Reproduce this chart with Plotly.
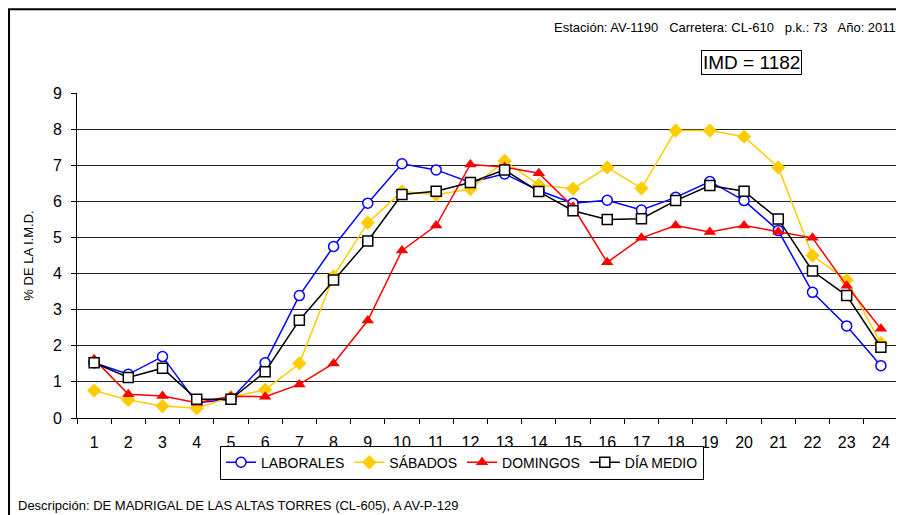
import plotly.graph_objects as go

horas = list(range(1, 25))

laborales = [1.53, 1.21, 1.70, 0.42, 0.52, 1.53, 3.39, 4.75, 5.95, 7.04, 6.87, 6.52,
             6.76, 6.30, 5.95, 6.03, 5.76, 6.11, 6.55, 6.02, 5.19, 3.48, 2.55, 1.45]
sabados = [0.76, 0.50, 0.33, 0.27, 0.58, 0.78, 1.51, 3.92, 5.41, 6.27, 6.18, 6.34,
           7.12, 6.45, 6.35, 6.94, 6.36, 7.96, 7.96, 7.79, 6.94, 4.50, 3.82, 2.07]
domingos = [1.63, 0.66, 0.61, 0.42, 0.60, 0.59, 0.93, 1.51, 2.70, 4.64, 5.33, 7.02,
            6.95, 6.78, 5.85, 4.31, 4.99, 5.33, 5.15, 5.33, 5.16, 4.99, 3.66, 2.47]
dia_medio = [1.53, 1.12, 1.38, 0.52, 0.52, 1.28, 2.71, 3.82, 4.90, 6.19, 6.28, 6.52,
             6.87, 6.27, 5.74, 5.50, 5.52, 6.02, 6.44, 6.28, 5.51, 4.07, 3.39, 1.96]

estacion = "Estación: AV-1190   Carretera: CL-610   p.k.: 73   Año: 2011"
imd = "IMD = 1182"
descripcion = "Descripción: DE MADRIGAL DE LAS ALTAS TORRES (CL-605), A AV-P-129"

FONT = "Arial, Liberation Sans, sans-serif"
xcat = [str(h) for h in horas]

fig = go.Figure()
fig.add_trace(go.Scatter(x=xcat, y=laborales, name="LABORALES", mode="lines+markers",
                         line=dict(color="#0000FF", width=1.5),
                         marker=dict(symbol="circle", size=10, color="white",
                                     line=dict(color="#0000FF", width=1.5))))
fig.add_trace(go.Scatter(x=xcat, y=sabados, name="SÁBADOS", mode="lines+markers",
                         line=dict(color="#FFCC00", width=1.5),
                         marker=dict(symbol="diamond", size=11, color="#FFCC00")))
fig.add_trace(go.Scatter(x=xcat, y=domingos, name="DOMINGOS", mode="lines+markers",
                         line=dict(color="#FF0000", width=1.5),
                         marker=dict(symbol="triangle-up", size=11, color="#FF0000")))
fig.add_trace(go.Scatter(x=xcat, y=dia_medio, name="DÍA MEDIO", mode="lines+markers",
                         line=dict(color="black", width=1.5),
                         marker=dict(symbol="square", size=10, color="white",
                                     line=dict(color="black", width=1.5))))

# the page body has an 8px margin, so the figure is 8px smaller and shifted
fig.update_layout(
    width=896, height=507,
    margin=dict(l=69, r=6, t=85, b=97),
    paper_bgcolor="white", plot_bgcolor="white",
    font=dict(family=FONT, size=15, color="black"),
    showlegend=True,
    legend=dict(orientation="h", x=0.469, xanchor="center", y=-0.085, yanchor="top",
                bordercolor="black", borderwidth=1, font=dict(size=14),
                itemwidth=30, tracegroupgap=0),
    xaxis=dict(type="category", range=[-0.5, len(xcat) - 0.5], tickson="boundaries",
               ticks="outside", ticklen=5,
               tickcolor="black", showline=True, linecolor="black", showgrid=False,
               tickfont=dict(size=16), ticklabelstandoff=10),
    yaxis=dict(range=[0, 9], dtick=1, ticks="outside", ticklen=5, tickcolor="black",
               showline=True, linecolor="black", showgrid=True, gridcolor="#222",
               gridwidth=1, zeroline=False, tickfont=dict(size=16), ticklabelstandoff=6,
               title=dict(text="% DE LA I.M.D.", font=dict(size=13), standoff=16)),
    shapes=[dict(type="rect", xref="paper", yref="paper", x0=-0.0828, x1=1.1,
                 y0=-0.5, y1=1.258,
                 line=dict(color="black", width=2), fillcolor="rgba(0,0,0,0)")],
    annotations=[
        dict(text=estacion, xref="paper", yref="paper", x=1, y=1.203, xanchor="right",
             yanchor="middle", showarrow=False, font=dict(size=13)),
        dict(text=imd, xref="paper", yref="paper", x=0.821, y=1.095, xanchor="center",
             yanchor="middle", showarrow=False, font=dict(size=19),
             bordercolor="black", borderwidth=1, borderpad=1),
        dict(text=descripcion, xref="paper", yref="paper", x=-0.0743, y=-0.268,
             xanchor="left", yanchor="middle", showarrow=False, font=dict(size=13)),
    ],
)

fig.write_html("out.html")
